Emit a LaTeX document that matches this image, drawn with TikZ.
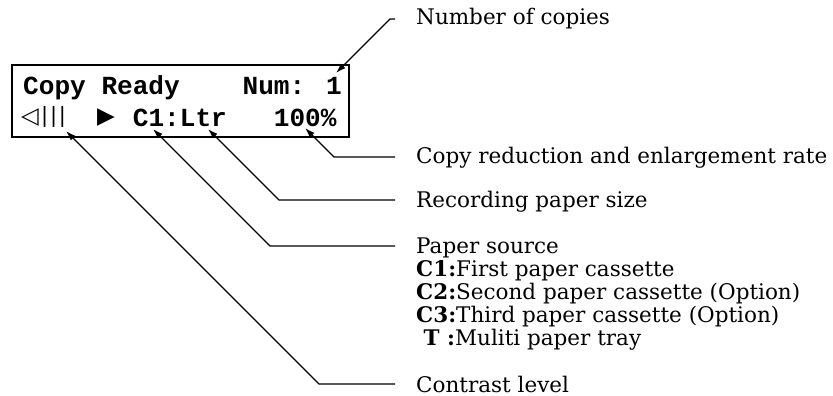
\documentclass[tikz,border=0pt]{standalone}
\usepackage{fontspec}
\setmainfont{DejaVu Serif}
\newfontfamily\lcdfont{Liberation Mono}
\newfontfamily\lcdsym{DejaVu Sans}
\usetikzlibrary{arrows.meta}
\begin{document}
\begin{tikzpicture}[x=1pt,y=-1pt,
  lcd/.style={font=\lcdfont\bfseries\fontsize{26.1}{26.1}\selectfont, anchor=base west, inner sep=0pt},
  lcdsymb/.style={font=\lcdsym\fontsize{23}{23}\selectfont, anchor=base west, inner sep=0pt},
  lbl/.style={font=\fontsize{21.5}{23}\selectfont, anchor=base west, inner sep=0pt},
  lead/.style={line width=1.3pt, -{Latex[length=10pt,width=6.5pt]}},
  panel/.style={draw, line width=2.3pt}]
\useasboundingbox (0,0) rectangle (833,396);
% LCD panel
\draw[panel] (12,65) rectangle (349,137);
\node[lcd] (ready) at (23,95) {Copy Ready};
\node[lcd] (num) at (242.4,95) {Num: 1};
\node[lcdsymb] (contr) at (21,123) {◁};
\node[lcdsymb,font=\lcdsym\fontsize{21}{21}\selectfont] (bars) at (41,122) {|\hspace{1.8pt}|\hspace{1.8pt}|};
\node[lcdsymb] (play) at (97,123) {▶};
\node[lcd] (src) at (132.7,126) {C1:Ltr};
\node[lcd] (rate) at (273.7,126) {100\%};
% labels
\node[lbl] (l1) at (416,25) {Number of copies};
\node[lbl] (l2) at (416,163) {Copy reduction and enlargement rate};
\node[lbl] (l3) at (416,207) {Recording paper size};
\node[lbl] (l4) at (416,253) {\vtop{\baselineskip=23pt
  \hbox{Paper source}
  \hbox{\textbf{C1:}First paper cassette}
  \hbox{\textbf{C2:}Second paper cassette (Option)}
  \hbox{\textbf{C3:}Third paper cassette (Option)}
  \hbox{\hspace*{0.35em}\textbf{T :}Muliti paper tray}}};
\node[lbl] (l5) at (416,392) {Contrast level};
% leader points
\coordinate (e1) at (395,19);  \coordinate (k1) at (390,19);  \coordinate (t1) at (336,73);
\coordinate (e2) at (395,157); \coordinate (k2) at (334,157); \coordinate (t2) at (305,128);
\coordinate (e3) at (395,200); \coordinate (k3) at (279,200); \coordinate (t3) at (208,129);
\coordinate (e4) at (395,246); \coordinate (k4) at (270,246); \coordinate (t4) at (153,129);
\coordinate (e5) at (395,384); \coordinate (k5) at (319,384); \coordinate (t5) at (66,131);
\draw[lead] (e1) -- (k1) -- (t1);
\draw[lead] (e2) -- (k2) -- (t2);
\draw[lead] (e3) -- (k3) -- (t3);
\draw[lead] (e4) -- (k4) -- (t4);
\draw[lead] (e5) -- (k5) -- (t5);
\end{tikzpicture}
\end{document}
